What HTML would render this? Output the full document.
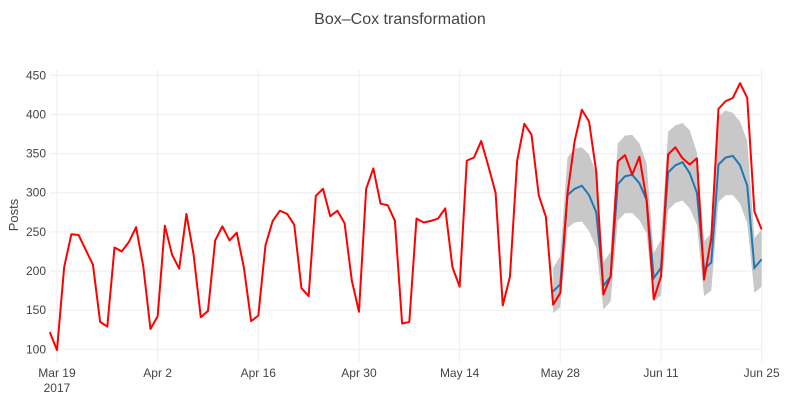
<!DOCTYPE html>
<html><head><meta charset="utf-8"><style>
body{margin:0;background:#fff;}
svg text{font-family:"Liberation Sans",sans-serif;fill:#444;}
</style></head><body>
<svg id="chart" width="800" height="400" xmlns="http://www.w3.org/2000/svg">
<text x="400" y="24" text-anchor="middle" font-size="16">Box–Cox transformation</text>
<text transform="translate(18,215) rotate(-90)" text-anchor="middle" font-size="13">Posts</text>
<g id="grid"></g><g id="band"></g><g id="lines"></g><g id="ticks"></g>
</svg>
<script>
const yTicks=[100,150,200,250,300,350,400,450];
const xTickLabels=["Mar 19","Apr 2","Apr 16","Apr 30","May 14","May 28","Jun 11","Jun 25"];
const xTickDays=[1,15,29,43,57,71,85,99];
const actual=[122,99,205,247,246,227,208,135,129,230,225,237,256,206,126,142,258,221,203,273,221,141,149,239,257,239,249,204,136,143,233,264,277,273,259,178,168,296,305,270,277,261,188,148,305,331,286,284,264,133,135,267,262,264,267,280,205,180,341,345,366,334,300,156,193,341,388,374,297,269,157,172,299,366,406,391,327,170,193,340,348,323,346,291,164,193,349,358,344,336,344,189,242,407,417,421,440,421,276,253];
const fcStart=70;
const forecast=[174,183,297,305,309,297,275,181,193,311,321,323,312,291,191,204,326,335,339,325,300,202,211,336,345,347,335,309,204,215];
const upper=[204,219,345,356,358,349,325,211,225,363,373,374,363,338,223,240,378,386,389,380,351,238,248,398,405,402,391,366,242,253];
const lower=[146,154,255,262,263,251,229,151,161,264,274,274,265,248,161,169,278,287,290,280,259,168,175,288,297,297,286,261,172,180];
const NS="http://www.w3.org/2000/svg";
const X=d=>49.8+d*7.19, Y=v=>349.3-(v-100)*0.7829;
function mk(tag,attrs,parent){const e=document.createElementNS(NS,tag);for(const k in attrs)e.setAttribute(k,attrs[k]);document.getElementById(parent).appendChild(e);return e;}
yTicks.forEach(v=>{
 const l=mk('line',{x1:50,x2:762,y1:Y(v),y2:Y(v),stroke:'#eee','stroke-width':1},'grid');
 
 
 const t=mk('text',{x:46,y:Y(v)+4,'text-anchor':'end','font-size':12},'ticks');t.textContent=v;
 
 
});
xTickDays.forEach((d,i)=>{
 const l=mk('line',{x1:X(d),x2:X(d),y1:70,y2:362,stroke:'#eee','stroke-width':1},'grid');
 
 
 const t=mk('text',{x:X(d),y:377,'text-anchor':'middle','font-size':12},'ticks');t.textContent=xTickLabels[i];
 
 
});
const yr=mk('text',{x:X(1),y:392,'text-anchor':'middle','font-size':12},'ticks');yr.textContent="2017";


let bp=upper.map((v,i)=>X(fcStart+i)+','+Y(v));
for(let i=lower.length-1;i>=0;i--)bp.push(X(fcStart+i)+','+Y(lower[i]));
const band=mk('polygon',{points:bp.join(' '),fill:'#c8c8c8'},'band');


const fl=mk('polyline',{points:forecast.map((v,i)=>X(fcStart+i)+','+Y(v)).join(' '),fill:'none',stroke:'#1f77b4','stroke-width':2},'lines');


const al=mk('polyline',{points:actual.map((v,i)=>X(i)+','+Y(v)).join(' '),fill:'none',stroke:'#ff0000','stroke-width':2,'stroke-linejoin':'round'},'lines');


</script>
</body></html>
